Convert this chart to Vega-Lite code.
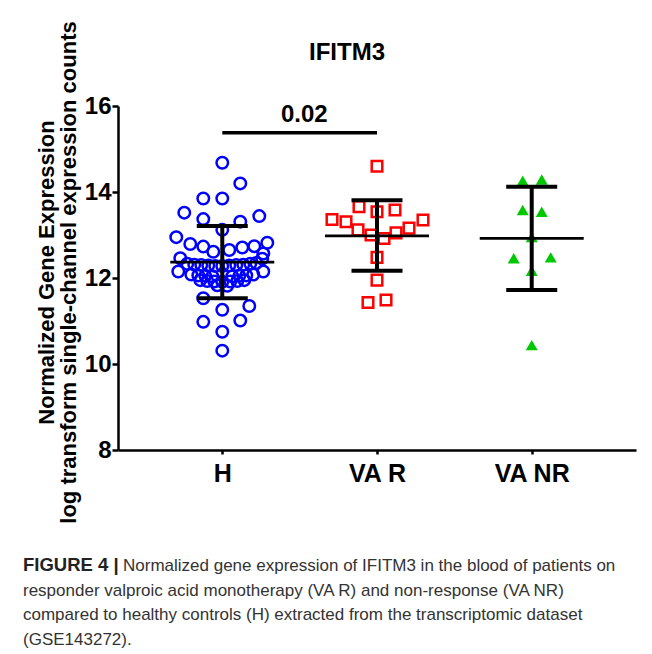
{
  "$schema": "https://vega.github.io/schema/vega-lite/v6.json",
  "background": "white",
  "padding": {"left": 23, "top": 20, "right": 5, "bottom": 5},
  "spacing": 32,
  "datasets": {
    "points": [
      {"group": "H", "value": 14.68, "off": 0},
      {"group": "H", "value": 14.20, "off": 18},
      {"group": "H", "value": 13.85, "off": -19},
      {"group": "H", "value": 13.85, "off": 0},
      {"group": "H", "value": 13.52, "off": -38},
      {"group": "H", "value": 13.44, "off": 37},
      {"group": "H", "value": 13.37, "off": -19},
      {"group": "H", "value": 13.31, "off": 18},
      {"group": "H", "value": 13.12, "off": 0},
      {"group": "H", "value": 12.95, "off": -46},
      {"group": "H", "value": 12.82, "off": 45},
      {"group": "H", "value": 12.79, "off": -32},
      {"group": "H", "value": 12.73, "off": -19},
      {"group": "H", "value": 12.74, "off": 32},
      {"group": "H", "value": 12.71, "off": 20},
      {"group": "H", "value": 12.61, "off": -9},
      {"group": "H", "value": 12.65, "off": 7},
      {"group": "H", "value": 12.57, "off": 41},
      {"group": "H", "value": 12.46, "off": -42},
      {"group": "H", "value": 12.45, "off": 40},
      {"group": "H", "value": 12.33, "off": -35},
      {"group": "H", "value": 12.31, "off": -28},
      {"group": "H", "value": 12.30, "off": -21},
      {"group": "H", "value": 12.29, "off": -14},
      {"group": "H", "value": 12.28, "off": -7},
      {"group": "H", "value": 12.28, "off": 0},
      {"group": "H", "value": 12.29, "off": 7},
      {"group": "H", "value": 12.30, "off": 14},
      {"group": "H", "value": 12.31, "off": 21},
      {"group": "H", "value": 12.33, "off": 28},
      {"group": "H", "value": 12.35, "off": 34},
      {"group": "H", "value": 12.15, "off": -44},
      {"group": "H", "value": 12.15, "off": 41},
      {"group": "H", "value": 12.08, "off": -31},
      {"group": "H", "value": 12.06, "off": -24},
      {"group": "H", "value": 12.05, "off": -17},
      {"group": "H", "value": 12.04, "off": -10},
      {"group": "H", "value": 12.04, "off": 10},
      {"group": "H", "value": 12.05, "off": 17},
      {"group": "H", "value": 12.06, "off": 24},
      {"group": "H", "value": 12.08, "off": 31},
      {"group": "H", "value": 11.95, "off": -22},
      {"group": "H", "value": 11.93, "off": -15},
      {"group": "H", "value": 11.92, "off": -8},
      {"group": "H", "value": 11.91, "off": 0},
      {"group": "H", "value": 11.92, "off": 8},
      {"group": "H", "value": 11.93, "off": 15},
      {"group": "H", "value": 11.95, "off": 22},
      {"group": "H", "value": 11.83, "off": -5},
      {"group": "H", "value": 11.82, "off": 5},
      {"group": "H", "value": 11.53, "off": -19},
      {"group": "H", "value": 11.35, "off": 27},
      {"group": "H", "value": 11.26, "off": 0},
      {"group": "H", "value": 10.98, "off": -19},
      {"group": "H", "value": 11.01, "off": 18},
      {"group": "H", "value": 10.75, "off": 0},
      {"group": "H", "value": 10.31, "off": 0},
      {"group": "VA R", "value": 14.60, "off": 0},
      {"group": "VA R", "value": 13.66, "off": -18},
      {"group": "VA R", "value": 13.54, "off": 0},
      {"group": "VA R", "value": 13.58, "off": 18},
      {"group": "VA R", "value": 13.36, "off": -45},
      {"group": "VA R", "value": 13.31, "off": -31},
      {"group": "VA R", "value": 13.35, "off": 46},
      {"group": "VA R", "value": 13.16, "off": 32},
      {"group": "VA R", "value": 13.12, "off": -19},
      {"group": "VA R", "value": 13.05, "off": 19},
      {"group": "VA R", "value": 13.00, "off": -6},
      {"group": "VA R", "value": 12.92, "off": 7},
      {"group": "VA R", "value": 12.48, "off": 0},
      {"group": "VA R", "value": 11.95, "off": 0},
      {"group": "VA R", "value": 11.43, "off": -9},
      {"group": "VA R", "value": 11.49, "off": 9},
      {"group": "VA NR", "value": 14.26, "off": -9},
      {"group": "VA NR", "value": 14.29, "off": 10},
      {"group": "VA NR", "value": 13.58, "off": -9},
      {"group": "VA NR", "value": 13.54, "off": 10},
      {"group": "VA NR", "value": 12.95, "off": 0},
      {"group": "VA NR", "value": 12.46, "off": -18},
      {"group": "VA NR", "value": 12.48, "off": 19},
      {"group": "VA NR", "value": 12.17, "off": 0},
      {"group": "VA NR", "value": 10.44, "off": 0}
    ],
    "summary": [
      {"group": "H", "mean": 12.37, "lo": 11.53, "hi": 13.21},
      {"group": "VA R", "mean": 12.98, "lo": 12.17, "hi": 13.81},
      {"group": "VA NR", "mean": 12.92, "lo": 11.72, "hi": 14.12}
    ],
    "sig": [
      {"from": "H", "to": "VA R", "y": 15.38, "ty": 15.63, "label": "0.02"}
    ],
    "caption": [
      {"line": 1, "text": "Normalized gene expression of IFITM3 in the blood of patients on"},
      {"line": 2, "text": "responder valproic acid monotherapy (VA R) and non-response (VA NR)"},
      {"line": 3, "text": "compared to healthy controls (H) extracted from the transcriptomic dataset"},
      {"line": 4, "text": "(GSE143272)."}
    ],
    "capbold": [
      {"line": 1, "text": "FIGURE 4 |"}
    ]
  },
  "vconcat": [
    {
      "width": 518,
      "height": 344,
      "title": {"text": "IFITM3", "fontSize": 24, "fontWeight": "bold", "font": "Liberation Sans", "color": "black", "anchor": "middle", "frame": "group", "offset": -44, "dx": -30},
      "encoding": {
        "x": {"field": "group", "type": "nominal", "sort": ["H", "VA R", "VA NR"],
          "scale": {"type": "point", "padding": 0.674, "domain": ["H", "VA R", "VA NR"]},
          "axis": {"title": null, "labelAngle": 0, "labelFontSize": 25, "labelFontWeight": "bold", "labelFont": "Liberation Sans", "labelColor": "black", "labelPadding": 7, "domainColor": "black", "domainWidth": 2.5, "tickColor": "black", "tickWidth": 2.5, "tickSize": 4}}
      },
      "layer": [
        {
          "data": {"name": "points"},
          "transform": [{"filter": "datum.group === 'H'"}],
          "mark": {"type": "point", "shape": "circle", "filled": false, "stroke": "#0000ff", "strokeWidth": 2.5, "size": 132, "opacity": 1},
          "encoding": {
            "y": {"field": "value", "type": "quantitative",
              "scale": {"domain": [8, 16], "nice": false, "zero": false},
              "axis": {"values": [8, 10, 12, 14, 16], "grid": false, "labelFontSize": 24, "labelFontWeight": "bold", "labelFont": "Liberation Sans", "labelColor": "black", "labelPadding": 1, "domainColor": "black", "domainWidth": 2.5, "tickColor": "black", "tickWidth": 2.5, "tickSize": 6,
                "title": ["Normalized Gene Expression", "log transform single-channel expression counts"],
                "titleFont": "Liberation Sans", "titleFontSize": 22, "titleFontWeight": "bold", "titleColor": "black", "titleLineHeight": 22, "titleAngle": -90, "titleBaseline": "alphabetic", "titleAlign": "center", "titleX": -65, "titleY": 166}},
            "xOffset": {"field": "off", "type": "quantitative", "scale": {"domain": [-80, 80], "range": [-80, 80]}}
          }
        },
        {
          "data": {"name": "points"},
          "transform": [{"filter": "datum.group === 'VA R'"}],
          "mark": {"type": "point", "shape": "square", "filled": false, "stroke": "#ff0000", "strokeWidth": 2.5, "size": 112, "opacity": 1},
          "encoding": {
            "y": {"field": "value", "type": "quantitative"},
            "xOffset": {"field": "off", "type": "quantitative", "scale": {"domain": [-80, 80], "range": [-80, 80]}}
          }
        },
        {
          "data": {"name": "points"},
          "transform": [{"filter": "datum.group === 'VA NR'"}],
          "mark": {"type": "point", "shape": "triangle-up", "filled": true, "fill": "#00c800", "strokeWidth": 0, "size": 144, "opacity": 1},
          "encoding": {
            "y": {"field": "value", "type": "quantitative"},
            "xOffset": {"field": "off", "type": "quantitative", "scale": {"domain": [-80, 80], "range": [-80, 80]}}
          }
        },
        {
          "data": {"name": "summary"},
          "mark": {"type": "rule", "color": "black", "strokeWidth": 4},
          "encoding": {
            "y": {"field": "lo", "type": "quantitative"},
            "y2": {"field": "hi"}
          }
        },
        {
          "data": {"name": "summary"},
          "mark": {"type": "tick", "color": "black", "size": 51, "thickness": 4, "orient": "horizontal", "opacity": 1},
          "encoding": {"y": {"field": "lo", "type": "quantitative"}}
        },
        {
          "data": {"name": "summary"},
          "mark": {"type": "tick", "color": "black", "size": 51, "thickness": 4, "orient": "horizontal", "opacity": 1},
          "encoding": {"y": {"field": "hi", "type": "quantitative"}}
        },
        {
          "data": {"name": "summary"},
          "mark": {"type": "tick", "color": "black", "size": 104, "thickness": 2.7, "orient": "horizontal", "opacity": 1},
          "encoding": {"y": {"field": "mean", "type": "quantitative"}}
        },
        {
          "data": {"name": "sig"},
          "mark": {"type": "rule", "color": "black", "strokeWidth": 3.5},
          "encoding": {
            "x": {"field": "from", "type": "nominal"},
            "x2": {"field": "to"},
            "y": {"field": "y", "type": "quantitative"}
          }
        },
        {
          "data": {"name": "sig"},
          "mark": {"type": "text", "fontSize": 24, "fontWeight": "bold", "font": "Liberation Sans", "color": "black", "align": "center", "baseline": "alphabetic", "dx": 82},
          "encoding": {
            "x": {"field": "from", "type": "nominal"},
            "y": {"field": "ty", "type": "quantitative"},
            "text": {"field": "label"}
          }
        }
      ]
    },
    {
      "width": 518,
      "height": 74,
      "encoding": {
        "x": {"datum": 0, "type": "quantitative", "scale": {"domain": [0, 1]}, "axis": null},
        "y": {"field": "line", "type": "ordinal", "scale": {"type": "point", "padding": 0, "domain": [1, 2, 3, 4]}, "axis": null}
      },
      "layer": [
        {
          "data": {"name": "capbold"},
          "mark": {"type": "text", "align": "left", "baseline": "alphabetic", "font": "Liberation Sans", "fontSize": 18.5, "fontWeight": "bold", "color": "#222222", "dx": -95},
          "encoding": {"text": {"field": "text"}}
        },
        {
          "data": {"name": "caption"},
          "transform": [{"filter": "datum.line === 1"}],
          "mark": {"type": "text", "align": "left", "baseline": "alphabetic", "font": "Liberation Sans", "fontSize": 17, "color": "#333333", "dx": 5},
          "encoding": {"text": {"field": "text"}}
        },
        {
          "data": {"name": "caption"},
          "transform": [{"filter": "datum.line !== 1"}],
          "mark": {"type": "text", "align": "left", "baseline": "alphabetic", "font": "Liberation Sans", "fontSize": 17, "color": "#333333", "dx": -95},
          "encoding": {"text": {"field": "text"}}
        }
      ]
    }
  ],
  "config": {
    "view": {"stroke": null},
    "axis": {"labelFont": "Liberation Sans", "titleFont": "Liberation Sans"}
  }
}
